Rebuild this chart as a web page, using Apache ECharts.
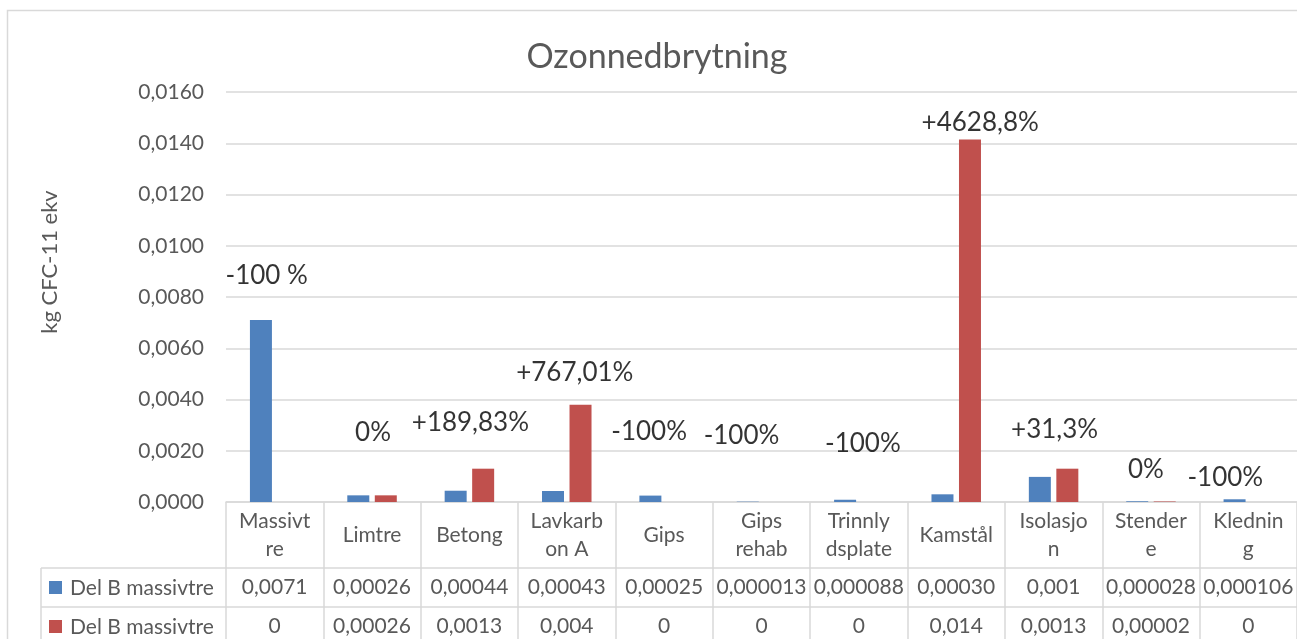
<!DOCTYPE html>
<html>
<head>
<meta charset="utf-8">
<script src="https://cdn.jsdelivr.net/npm/echarts@6/dist/echarts.min.js"></script>
<style>
  html, body { margin: 0; padding: 0; background: #fff; }
  #main { width: 1297px; height: 639px; }
</style>
</head>
<body>
<div id="main"></div>
<script>
// Chart data
const categories = ['Massivt\nre', 'Limtre', 'Betong', 'Lavkarb\non A', 'Gips', 'Gips\nrehab',
  'Trinnly\ndsplate', 'Kamstål', 'Isolasjo\nn', 'Stender\ne', 'Klednin\ng'];
const seriesName = 'Del B massivtre';
const blueValues = [0.0071, 0.00026, 0.00044, 0.00043, 0.00025, 0.000013, 0.000088, 0.00030, 0.00098, 0.000028, 0.000106];
const redValues = [0, 0.00026, 0.0013, 0.0038, 0, 0, 0, 0.01415, 0.0013, 0.00002, 0];
// text shown in the data table
const blueTable = ['0,0071', '0,00026', '0,00044', '0,00043', '0,00025', '0,000013', '0,000088', '0,00030', '0,001', '0,000028', '0,000106'];
const redTable = ['0', '0,00026', '0,0013', '0,004', '0', '0', '0', '0,014', '0,0013', '0,00002', '0'];
// change notes and the height they sit at (in kg CFC-11 ekv)
const notes = ['-100 %', '0%', '+189,83%', '+767,01%', '-100%', '-100%', '-100%', '+4628,8%', '+31,3%', '0%', '-100%'];
const noteHeights = [0.00882, 0.00269, 0.00308, 0.00503, 0.00273, 0.00258, 0.00226, 0.01479, 0.00281, 0.00125, 0.00094];
const noteShift = [-8, 1, 1, 8, -15, -20, 4, 24, 1, -5, -23];

const FONT = 'Lato';
const GREY = '#595959';
const LINE = '#D9D9D9';
const BLUE = '#4F81BD';
const RED = '#C0504D';

const myChart = echarts.init(document.getElementById('main'));

function tableAxis(data, offset, length) {
    return {
        type: 'category',
        data: data,
        position: 'bottom',
        offset: offset,
        axisLine: { show: true, lineStyle: { color: LINE, width: 1.5 } },
        axisTick: { show: true, interval: 0, length: length, lineStyle: { color: LINE, width: 1.5 } },
        axisLabel: {
            interval: 0, color: GREY, fontSize: 21, fontFamily: FONT,
            verticalAlign: 'middle', margin: length / 2
        },
        splitLine: { show: false }
    };
}

const headerAxis = tableAxis(categories, 0, 66);
headerAxis.axisLabel.lineHeight = 28;

let option = {
    animation: false,
    title: {
        text: 'Ozonnedbrytning',
        left: 652,
        top: 35,
        textAlign: 'center',
        textStyle: { fontFamily: FONT, fontSize: 34, fontWeight: 'normal', color: GREY }
    },
    grid: { left: 226, top: 92, width: 1071, bottom: 137 },
    xAxis: [
        headerAxis,
        tableAxis(blueTable, 66, 39),
        tableAxis(redTable, 105, 39)
    ],
    yAxis: {
        type: 'value',
        min: 0,
        max: 0.016,
        interval: 0.002,
        axisLine: { show: false },
        axisTick: { show: false },
        axisLabel: {
            color: GREY, fontSize: 21, fontFamily: FONT, margin: 22,
            formatter: v => v.toFixed(4).replace('.', ',')
        },
        splitLine: { lineStyle: { color: LINE, width: 1.5 } }
    },
    series: [
        {
            name: seriesName,
            type: 'bar',
            data: blueValues,
            barWidth: 22,
            barGap: '25%',
            itemStyle: { color: BLUE }
        },
        {
            name: seriesName,
            type: 'bar',
            data: redValues,
            barWidth: 22,
            itemStyle: { color: RED }
        },
        {
            type: 'scatter',
            silent: true,
            symbolSize: 1,
            itemStyle: { color: 'rgba(0,0,0,0)' },
            data: noteHeights.map((h, i) => [i, h]),
            label: {
                show: true,
                position: 'inside',
                formatter: p => notes[p.dataIndex],
                color: '#000',
                fontSize: 26,
                fontFamily: FONT
            },
            labelLayout: p => ({ dx: noteShift[p.dataIndex] })
        }
    ],
    graphic: [
        // outer chart border
        { type: 'rect', shape: { x: 7.5, y: 10.5, width: 1400, height: 700 },
          style: { fill: 'none', stroke: LINE, lineWidth: 1.5 }, silent: true },
        // y axis title
        { type: 'text', x: 50, y: 262, rotation: Math.PI / 2,
          style: { text: 'kg CFC-11 ekv', fontFamily: FONT, fontSize: 22, fill: GREY,
                   align: 'center', verticalAlign: 'middle' } },
        // legend column of the data table
        { type: 'line', shape: { x1: 41, y1: 568, x2: 226, y2: 568 }, style: { stroke: LINE, lineWidth: 1.5 } },
        { type: 'line', shape: { x1: 41, y1: 607, x2: 226, y2: 607 }, style: { stroke: LINE, lineWidth: 1.5 } },
        { type: 'line', shape: { x1: 41, y1: 568, x2: 41, y2: 660 }, style: { stroke: LINE, lineWidth: 1.5 } },
        { type: 'rect', shape: { x: 49, y: 581, width: 13, height: 13 }, style: { fill: BLUE } },
        { type: 'rect', shape: { x: 49, y: 620, width: 13, height: 13 }, style: { fill: RED } },
        { type: 'text', x: 70, y: 588,
          style: { text: seriesName, fontFamily: FONT, fontSize: 21, fill: GREY, verticalAlign: 'middle' } },
        { type: 'text', x: 70, y: 627,
          style: { text: seriesName, fontFamily: FONT, fontSize: 21, fill: GREY, verticalAlign: 'middle' } }
    ]
};

option && myChart.setOption(option);
</script>
</body>
</html>
